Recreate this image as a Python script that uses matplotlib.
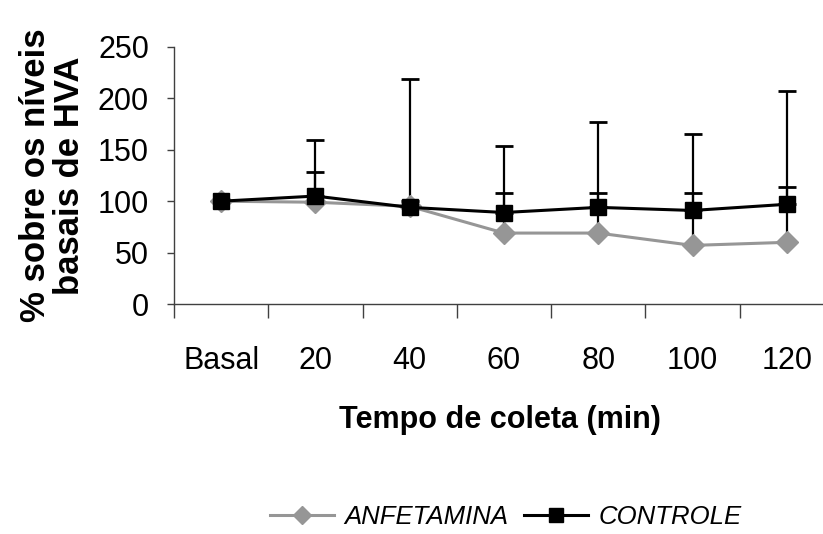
import numpy as np
import matplotlib
matplotlib.use("Agg")
import matplotlib.pyplot as plt
from matplotlib.lines import Line2D

plt.rcParams["font.family"] = ["Liberation Sans", "DejaVu Sans"]

""" data read off the reference """
categories = ["Basal", "20", "40", "60", "80", "100", "120"]
anfetamina = [100, 99, 95, 69, 69, 57, 60]
anfetamina_err = [0, 29, 5, 39, 39, 51, 54]
controle = [100, 105, 94, 89, 94, 91, 97]
controle_err = [0, 54.5, 125, 65, 83, 74, 110.5]

gray = "#969696"
axis_col = "#404040"
font_m = 22

fig = plt.figure(figsize=(8.23, 5.34), dpi=100)
ax = fig.add_axes([174 / 823, 1 - 304 / 534, 660 / 823, 257 / 534])

x = np.arange(len(categories))

# error bars (upper only), black like Excel
ax.errorbar(x, anfetamina, yerr=[np.zeros(len(x)), anfetamina_err], fmt="none",
            ecolor="black", elinewidth=1.6, capsize=6.5, capthick=2, zorder=2)
ax.errorbar(x, controle, yerr=[np.zeros(len(x)), controle_err], fmt="none",
            ecolor="black", elinewidth=1.6, capsize=6.5, capthick=2, zorder=2)

ax.plot(x, anfetamina, "-", color=gray, lw=2.2, marker="D", ms=11.5,
        mfc=gray, mec=gray, zorder=3)
ax.plot(x, controle, "-", color="black", lw=2.2, marker="s", ms=11.5,
        mfc="black", mec="black", zorder=4)

ax.set_xlim(-0.5, 6.5)
ax.set_ylim(0, 250)
ax.set_yticks(np.arange(0, 251, 50))
ax.tick_params(axis="y", length=5, width=1, color=axis_col, pad=13, labelsize=font_m)

# category boundaries as ticks, labels in the middle
ax.set_xticks(np.arange(-0.5, 7, 1))
ax.set_xticklabels([])
ax.set_xticks(x, minor=True)
ax.set_xticklabels(categories, minor=True)
ax.tick_params(axis="x", which="major", length=10, width=1, color=axis_col, direction="out")
ax.tick_params(axis="x", which="minor", length=0, pad=30, labelsize=font_m)

for s in ["top", "right"]:
    ax.spines[s].set_visible(False)
for s in ["left", "bottom"]:
    ax.spines[s].set_color(axis_col)
    ax.spines[s].set_linewidth(1)

ax.set_ylabel("% sobre os níveis\nbasais de HVA", fontsize=25, fontweight="bold",
              linespacing=1.05)
ax.yaxis.set_label_coords(-88 / 660, 0.5)

fig.text(500 / 823, 1 - 420 / 534, "Tempo de coleta (min)", fontsize=22,
         fontweight="bold", ha="center", va="center")

handles = [Line2D([], [], color=gray, lw=2.2, marker="D", ms=9, mfc=gray, mec=gray),
           Line2D([], [], color="black", lw=2.2, marker="s", ms=10, mfc="black", mec="black")]
fig.legend(handles, ["ANFETAMINA", "CONTROLE"], loc="center", ncol=2,
           bbox_to_anchor=(506 / 823, 1 - 517 / 534), frameon=False,
           prop={"size": 18.5, "style": "italic"}, handlelength=2.5,
           handletextpad=0.4, columnspacing=0.6, borderaxespad=0)

fig.savefig("out.png", dpi=100)
